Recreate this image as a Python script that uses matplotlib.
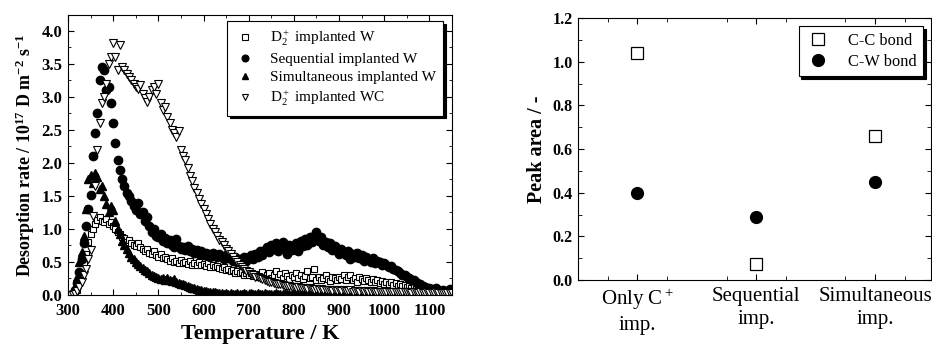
import matplotlib
matplotlib.use("Agg")
import matplotlib.pyplot as plt
from matplotlib.ticker import MultipleLocator, FormatStrFormatter

plt.rcParams['font.family'] = ['Liberation Serif', 'DejaVu Serif']
plt.rcParams['mathtext.fontset'] = 'custom'
plt.rcParams['mathtext.rm'] = 'Liberation Serif'
plt.rcParams['mathtext.bf'] = 'Liberation Serif:bold'
plt.rcParams['mathtext.it'] = 'Liberation Serif:italic'

# ---------------- left panel data (TDS spectra) ----------------
temperature = [
    305, 310, 315, 320, 325, 330, 335, 340, 345, 350,
    355, 360, 365, 370, 375, 380, 385, 390, 395, 400,
    405, 410, 415, 420, 425, 430, 435, 440, 445, 450,
    455, 460, 465, 470, 475, 480, 485, 490, 495, 500,
    505, 510, 515, 520, 525, 530, 535, 540, 545, 550,
    555, 560, 565, 570, 575, 580, 585, 590, 595, 600,
    605, 610, 615, 620, 625, 630, 635, 640, 645, 650,
    655, 660, 665, 670, 675, 680, 685, 690, 695, 700,
    705, 710, 715, 720, 725, 730, 735, 740, 745, 750,
    755, 760, 765, 770, 775, 780, 785, 790, 795, 800,
    805, 810, 815, 820, 825, 830, 835, 840, 845, 850,
    855, 860, 865, 870, 875, 880, 885, 890, 895, 900,
    905, 910, 915, 920, 925, 930, 935, 940, 945, 950,
    955, 960, 965, 970, 975, 980, 985, 990, 995, 1000,
    1005, 1010, 1015, 1020, 1025, 1030, 1035, 1040, 1045, 1050,
    1055, 1060, 1065, 1070, 1075, 1080, 1085, 1090, 1095, 1100,
    1105, 1110, 1115, 1120, 1125, 1130, 1135, 1140, 1145, 1150,
]

d2_w = [
    0.00, 0.01, 0.03, 0.08, 0.18, 0.32, 0.48, 0.62, 0.80, 0.92,
    1.00, 1.08, 1.13, 1.18, 1.12, 1.10, 1.15, 1.08, 1.10, 1.05,
    1.00, 0.96, 0.92, 0.88, 0.86, 0.80, 0.84, 0.78, 0.76, 0.74,
    0.78, 0.72, 0.70, 0.66, 0.70, 0.64, 0.62, 0.66, 0.60, 0.58,
    0.62, 0.56, 0.58, 0.54, 0.52, 0.56, 0.50, 0.52, 0.49, 0.53,
    0.48, 0.50, 0.47, 0.51, 0.46, 0.48, 0.45, 0.50, 0.46, 0.47,
    0.44, 0.48, 0.43, 0.46, 0.42, 0.44, 0.41, 0.40, 0.43, 0.38,
    0.40, 0.36, 0.38, 0.34, 0.37, 0.33, 0.35, 0.30, 0.33, 0.31,
    0.34, 0.29, 0.32, 0.28, 0.31, 0.35, 0.27, 0.30, 0.33, 0.26,
    0.30, 0.36, 0.28, 0.32, 0.25, 0.34, 0.29, 0.24, 0.31, 0.27,
    0.33, 0.26, 0.30, 0.24, 0.29, 0.36, 0.25, 0.28, 0.40, 0.23,
    0.27, 0.22, 0.26, 0.30, 0.24, 0.21, 0.27, 0.25, 0.22, 0.28,
    0.24, 0.30, 0.22, 0.27, 0.31, 0.23, 0.26, 0.20, 0.28, 0.24,
    0.21, 0.26, 0.22, 0.19, 0.24, 0.20, 0.22, 0.18, 0.21, 0.17,
    0.20, 0.16, 0.19, 0.15, 0.18, 0.14, 0.17, 0.13, 0.15, 0.12,
    0.14, 0.11, 0.12, 0.10, 0.11, 0.09, 0.10, 0.08, 0.09, 0.07,
    0.08, 0.06, 0.07, 0.06, 0.05, 0.06, 0.05, 0.04, 0.05, 0.04,
]

sequential_w = [
    0.00, 0.02, 0.08, 0.18, 0.35, 0.55, 0.78, 1.05, 1.30, 1.52,
    2.10, 2.45, 2.75, 3.25, 3.45, 3.40, 3.10, 3.15, 2.90, 2.60,
    2.30, 2.05, 1.90, 1.75, 1.65, 1.55, 1.50, 1.42, 1.35, 1.28,
    1.40, 1.22, 1.25, 1.12, 1.18, 1.05, 0.95, 1.00, 0.90, 0.88,
    0.92, 0.82, 0.86, 0.78, 0.84, 0.76, 0.72, 0.85, 0.74, 0.70,
    0.72, 0.68, 0.74, 0.66, 0.70, 0.64, 0.68, 0.62, 0.66, 0.60,
    0.64, 0.62, 0.58, 0.63, 0.60, 0.57, 0.62, 0.58, 0.55, 0.60,
    0.56, 0.58, 0.52, 0.57, 0.50, 0.55, 0.53, 0.58, 0.52, 0.56,
    0.60, 0.55, 0.62, 0.58, 0.66, 0.60, 0.68, 0.72, 0.65, 0.76,
    0.70, 0.78, 0.66, 0.74, 0.80, 0.70, 0.62, 0.75, 0.68, 0.72,
    0.78, 0.66, 0.82, 0.74, 0.85, 0.76, 0.88, 0.80, 0.90, 0.95,
    0.82, 0.88, 0.76, 0.80, 0.72, 0.78, 0.68, 0.74, 0.66, 0.62,
    0.70, 0.64, 0.60, 0.67, 0.55, 0.62, 0.58, 0.64, 0.56, 0.60,
    0.52, 0.58, 0.54, 0.50, 0.56, 0.48, 0.52, 0.50, 0.46, 0.49,
    0.46, 0.42, 0.44, 0.40, 0.38, 0.36, 0.34, 0.31, 0.30, 0.27,
    0.25, 0.23, 0.22, 0.19, 0.17, 0.16, 0.14, 0.12, 0.11, 0.10,
    0.09, 0.08, 0.10, 0.07, 0.06, 0.08, 0.05, 0.06, 0.09, 0.07,
]

simultaneous_w = [
    0.00, 0.03, 0.12, 0.28, 0.50, 0.65, 0.90, 1.30, 1.75, 1.82,
    1.70, 1.85, 1.78, 1.60, 1.65, 1.50, 1.38, 1.25, 1.35, 1.28,
    1.12, 1.00, 0.92, 0.82, 0.76, 0.70, 0.64, 0.58, 0.54, 0.50,
    0.47, 0.44, 0.41, 0.38, 0.36, 0.33, 0.31, 0.29, 0.27, 0.25,
    0.24, 0.25, 0.23, 0.26, 0.22, 0.21, 0.24, 0.19, 0.18, 0.17,
    0.16, 0.15, 0.14, 0.12, 0.11, 0.10, 0.09, 0.08, 0.07, 0.06,
    0.06, 0.05, 0.05, 0.04, 0.04, 0.03, 0.03, 0.03, 0.02, 0.03,
    0.02, 0.03, 0.02, 0.02, 0.03, 0.02, 0.02, 0.03, 0.02, 0.02,
    0.03, 0.02, 0.02, 0.03, 0.02, 0.02, 0.03, 0.02, 0.02, 0.02,
    0.02, 0.03, 0.02, 0.02, 0.02, 0.03, 0.02, 0.02, 0.02, 0.02,
    0.02, 0.02, 0.03, 0.02, 0.02, 0.02, 0.02, 0.03, 0.02, 0.02,
    0.02, 0.02, 0.02, 0.02, 0.03, 0.02, 0.02, 0.02, 0.02, 0.02,
    0.02, 0.03, 0.02, 0.02, 0.02, 0.02, 0.02, 0.02, 0.03, 0.02,
    0.02, 0.02, 0.02, 0.02, 0.02, 0.02, 0.02, 0.02, 0.02, 0.02,
    0.02, 0.02, 0.02, 0.02, 0.02, 0.02, 0.02, 0.02, 0.02, 0.02,
    0.02, 0.02, 0.02, 0.02, 0.02, 0.02, 0.02, 0.02, 0.02, 0.02,
    0.02, 0.02, 0.02, 0.02, 0.02, 0.02, 0.02, 0.02, 0.02, 0.02,
]

d2_wc = [
    0.00, 0.00, 0.02, 0.06, 0.12, 0.20, 0.30, 0.40, 0.55, 0.68,
    1.20, 1.65, 2.20, 2.60, 2.90, 3.00, 3.20, 3.50, 3.60, 3.82,
    3.60, 3.40, 3.78, 3.45, 3.40, 3.35, 3.30, 3.25, 3.20, 3.15,
    3.12, 3.18, 3.05, 2.98, 2.92, 3.00, 3.10, 3.15, 3.05, 3.20,
    2.90, 2.80, 2.85, 2.70, 2.60, 2.50, 2.45, 2.40, 2.48, 2.20,
    2.10, 2.05, 1.92, 1.80, 1.72, 1.62, 1.55, 1.45, 1.38, 1.30,
    1.22, 1.15, 1.08, 1.00, 0.95, 0.90, 0.84, 0.80, 0.75, 0.70,
    0.66, 0.62, 0.57, 0.53, 0.50, 0.45, 0.42, 0.40, 0.37, 0.35,
    0.32, 0.30, 0.28, 0.27, 0.25, 0.24, 0.22, 0.21, 0.20, 0.19,
    0.18, 0.17, 0.16, 0.16, 0.15, 0.14, 0.14, 0.13, 0.12, 0.12,
    0.11, 0.12, 0.10, 0.11, 0.10, 0.09, 0.10, 0.09, 0.08, 0.09,
    0.08, 0.09, 0.07, 0.08, 0.07, 0.08, 0.06, 0.07, 0.06, 0.07,
    0.06, 0.07, 0.06, 0.06, 0.07, 0.05, 0.06, 0.06, 0.05, 0.06,
    0.05, 0.06, 0.05, 0.05, 0.06, 0.05, 0.05, 0.04, 0.05, 0.05,
    0.04, 0.05, 0.04, 0.05, 0.04, 0.04, 0.05, 0.04, 0.04, 0.04,
    0.04, 0.03, 0.04, 0.04, 0.03, 0.04, 0.03, 0.03, 0.04, 0.03,
    0.03, 0.03, 0.04, 0.03, 0.03, 0.03, 0.03, 0.03, 0.03, 0.03,
]

left_labels = [
    r'D$_2^+$ implanted W',
    'Sequential implanted W',
    'Simultaneous implanted W',
    r'D$_2^+$ implanted WC',
]
left_xticks = [300, 400, 500, 600, 700, 800, 900, 1000, 1100]

# ---------------- right panel data (peak areas) ----------------
categories = ['Only C$^+$\nimp.', 'Sequential\nimp.', 'Simultaneous\nimp.']
cc_bond = [1.04, 0.075, 0.66]
cw_bond = [0.40, 0.29, 0.45]
right_labels = ['C-C bond', 'C-W bond']

fig = plt.figure(figsize=(9.32, 3.45), dpi=100)

# ---------- left axes ----------
ax = fig.add_axes([68/932, 50/345, 384/932, 280/345])
ax.plot(temperature, d2_w, ls='none', marker='s', ms=5, mfc='white',
        mec='black', mew=0.8, label=left_labels[0])
ax.plot(temperature, sequential_w, ls='none', marker='o', ms=6,
        mfc='black', mec='black', label=left_labels[1])
ax.plot(temperature, simultaneous_w, ls='none', marker='^', ms=5.8,
        mfc='black', mec='black', label=left_labels[2])
ax.plot(temperature, d2_wc, ls='none', marker='v', ms=6.2, mfc='white',
        mec='black', mew=0.8, label=left_labels[3])
ax.set_xlim(300, 1150)
ax.set_ylim(0, 4.24)
ax.set_xticks(left_xticks)
ax.xaxis.set_minor_locator(MultipleLocator(50))
ax.yaxis.set_major_locator(MultipleLocator(0.5))
ax.yaxis.set_minor_locator(MultipleLocator(0.25))
ax.yaxis.set_major_formatter(FormatStrFormatter('%.1f'))
ax.tick_params(which='both', direction='in', top=True, right=True,
               labelsize=12)
ax.tick_params(axis='y', pad=4)
ax.tick_params(axis='x', pad=6)
ax.tick_params(which='major', length=4)
ax.tick_params(which='minor', length=2.5)
for lab in ax.get_xticklabels() + ax.get_yticklabels():
    lab.set_fontweight('bold')
ax.set_xlabel('Temperature / K', fontsize=16, fontweight='bold', labelpad=3)
ax.set_ylabel(r'Desorption rate / 10$^{\mathbf{17}}$ D m$^{\mathbf{-2}}$ s$^{\mathbf{-1}}$',
              fontsize=13, fontweight='bold', labelpad=3)
leg = ax.legend(loc='upper right', bbox_to_anchor=(0.977, 0.979),
                borderaxespad=0, fontsize=11,
                frameon=True, fancybox=False, edgecolor='black',
                shadow={'color': 'black', 'alpha': 1}, markerscale=0.8,
                handletextpad=0.9, labelspacing=0.3, borderpad=0.5,
                handlelength=1.4)
leg.get_frame().set_linewidth(0.8)

# ---------- right axes ----------
ax2 = fig.add_axes([578/932, 65/345, 353/932, 262/345])
xpos = [1, 2, 3]
ax2.plot(xpos, cc_bond, ls='none', marker='s', ms=8, mfc='white',
         mec='black', mew=0.9, label=right_labels[0])
ax2.plot(xpos, cw_bond, ls='none', marker='o', ms=8.5, mfc='black',
         mec='black', label=right_labels[1])
ax2.set_xlim(0.5, 3.47)
ax2.set_ylim(0, 1.2)
ax2.set_xticks(xpos)
ax2.set_xticklabels(categories, fontsize=15, linespacing=1.3)
ax2.set_xticks([0.75, 1.25, 1.75, 2.25, 2.75, 3.25], minor=True)
ax2.yaxis.set_major_locator(MultipleLocator(0.2))
ax2.yaxis.set_minor_locator(MultipleLocator(0.1))
ax2.yaxis.set_major_formatter(FormatStrFormatter('%.1f'))
ax2.tick_params(which='both', direction='in', top=True, right=True)
ax2.tick_params(axis='x', pad=5)
ax2.tick_params(axis='y', labelsize=11.5, pad=4)
ax2.tick_params(which='major', length=4)
ax2.tick_params(which='minor', length=3)
for lab in ax2.get_yticklabels():
    lab.set_fontweight('bold')
ax2.set_ylabel('Peak area / -', fontsize=14.5, fontweight='bold', labelpad=4)
leg2 = ax2.legend(loc='upper right', bbox_to_anchor=(0.977, 0.969),
                  borderaxespad=0, fontsize=11.8,
                  frameon=True, fancybox=False, edgecolor='black',
                  shadow={'color': 'black', 'alpha': 1},
                  handletextpad=1.0, labelspacing=0.3, borderpad=0.4,
                  handlelength=1.6)
leg2.get_frame().set_linewidth(0.8)

fig.savefig('out.png', dpi=100)
